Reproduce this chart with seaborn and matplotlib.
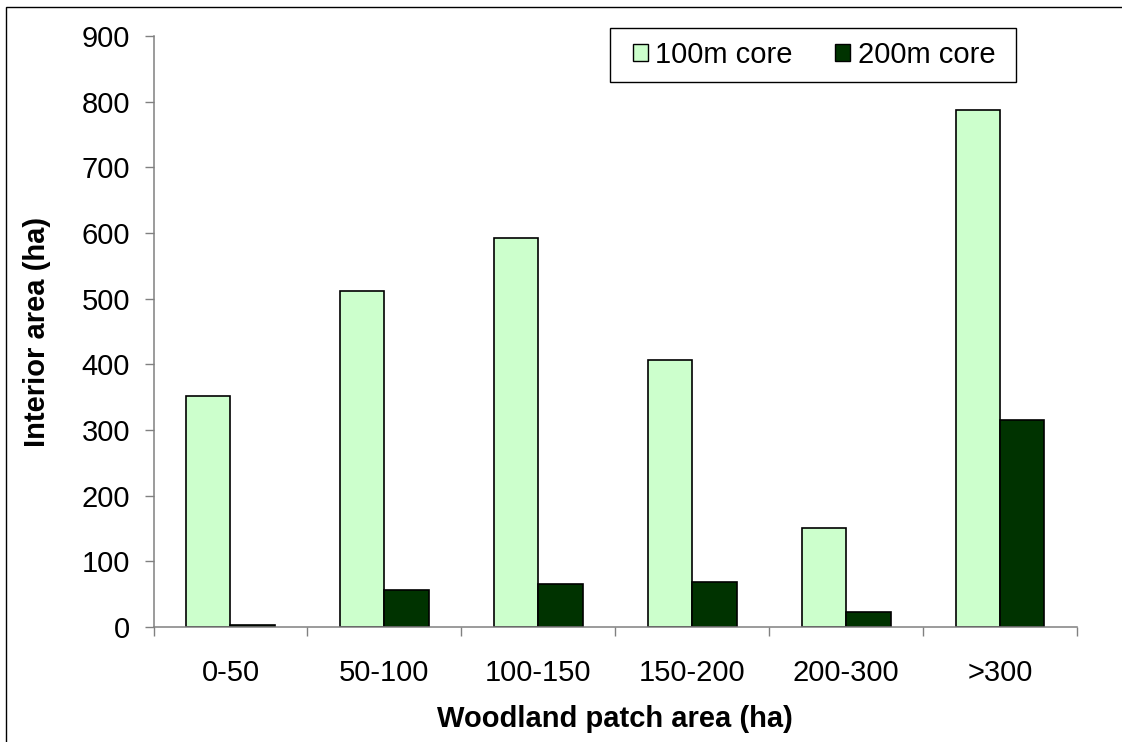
import matplotlib
matplotlib.use("Agg")
import matplotlib.pyplot as plt
from matplotlib.patches import Rectangle
from matplotlib.ticker import FixedLocator, NullFormatter
import seaborn as sns
import pandas as pd

# Interior (core) area by woodland patch size class
categories = ["0-50", "50-100", "100-150", "150-200", "200-300", ">300"]
core_100m = [351, 511, 593, 407, 151, 787]
core_200m = [3, 56, 65, 68, 23, 315]
series_names = ["100m core", "200m core"]
y_ticks = [0, 100, 200, 300, 400, 500, 600, 700, 800, 900]

df = pd.DataFrame({
    "patch": categories * 2,
    "series": [series_names[0]] * len(categories) + [series_names[1]] * len(categories),
    "area": core_100m + core_200m,
})

sns.set_theme(style="white")
plt.rcParams["font.family"] = ["Liberation Sans", "DejaVu Sans"]
plt.rcParams["text.color"] = "black"
plt.rcParams["axes.labelcolor"] = "black"

FS = 21
W, H = 1122, 742
fig = plt.figure(figsize=(W / 100, H / 100), dpi=100)
ax = fig.add_axes([153.5 / W, 1 - 626.7 / H, (1077 - 153.5) / W, (626.7 - 36.3) / H])

sns.barplot(
    data=df, x="patch", y="area", hue="series", order=categories,
    hue_order=series_names, palette=["#CCFFCC", "#003300"], saturation=1,
    width=0.577, gap=0, edgecolor="black", linewidth=1.2,
    errorbar=None, ax=ax, legend=True,
)

ax.set_xlim(-0.5, len(categories) - 0.5)
ax.set_ylim(0, 900)
ax.set_yticks(y_ticks)

# spines: only left and bottom, grey
for side in ["top", "right"]:
    ax.spines[side].set_visible(False)
for side in ["left", "bottom"]:
    ax.spines[side].set_color("#808080")
    ax.spines[side].set_linewidth(1.1)

ax.tick_params(axis="y", which="major", direction="out", length=6.5, width=1.0,
               color="#808080", pad=10.5, labelsize=FS, left=True, labelcolor="black")
ax.tick_params(axis="x", which="major", length=0, pad=23, labelsize=FS, labelcolor="black")
# category separators as minor ticks on the x axis
ax.xaxis.set_minor_locator(FixedLocator([i - 0.5 for i in range(len(categories) + 1)]))
ax.xaxis.set_minor_formatter(NullFormatter())
ax.tick_params(axis="x", which="minor", direction="out", length=6.5, width=1.0,
               color="#808080", bottom=True)

ax.set_xlabel("Woodland patch area (ha)", fontsize=FS, fontweight="bold")
ax.set_ylabel("Interior area (ha)", fontsize=FS, fontweight="bold")
ax.xaxis.set_label_coords(0.5, -0.133)
ax.yaxis.set_label_coords(-0.111, 0.5)

handles, labels = ax.get_legend_handles_labels()
ax.get_legend().remove()
leg = fig.legend(
    handles, labels, ncol=2, loc="center left",
    bbox_to_anchor=(632.7 / W, 1 - 55 / H), bbox_transform=fig.transFigure,
    borderaxespad=0, borderpad=0, fontsize=FS, frameon=False,
    handlelength=0.51, handleheight=0.51, handletextpad=0.27, columnspacing=1.44,
)
for h in leg.legend_handles:
    h.set_edgecolor("black")
    h.set_linewidth(1.0)

# legend box
fig.patches.append(Rectangle((610 / W, 1 - 81.7 / H), (1016 - 610) / W, (81.7 - 28.3) / H,
                             transform=fig.transFigure, fill=False,
                             edgecolor="black", linewidth=1.0))
# outer chart border
fig.patches.append(Rectangle((6 / W, -0.05), 1.2, (1 - 7 / H) + 0.05,
                             transform=fig.transFigure, fill=False,
                             edgecolor="black", linewidth=1.0))

fig.savefig("out.png", dpi=100)
